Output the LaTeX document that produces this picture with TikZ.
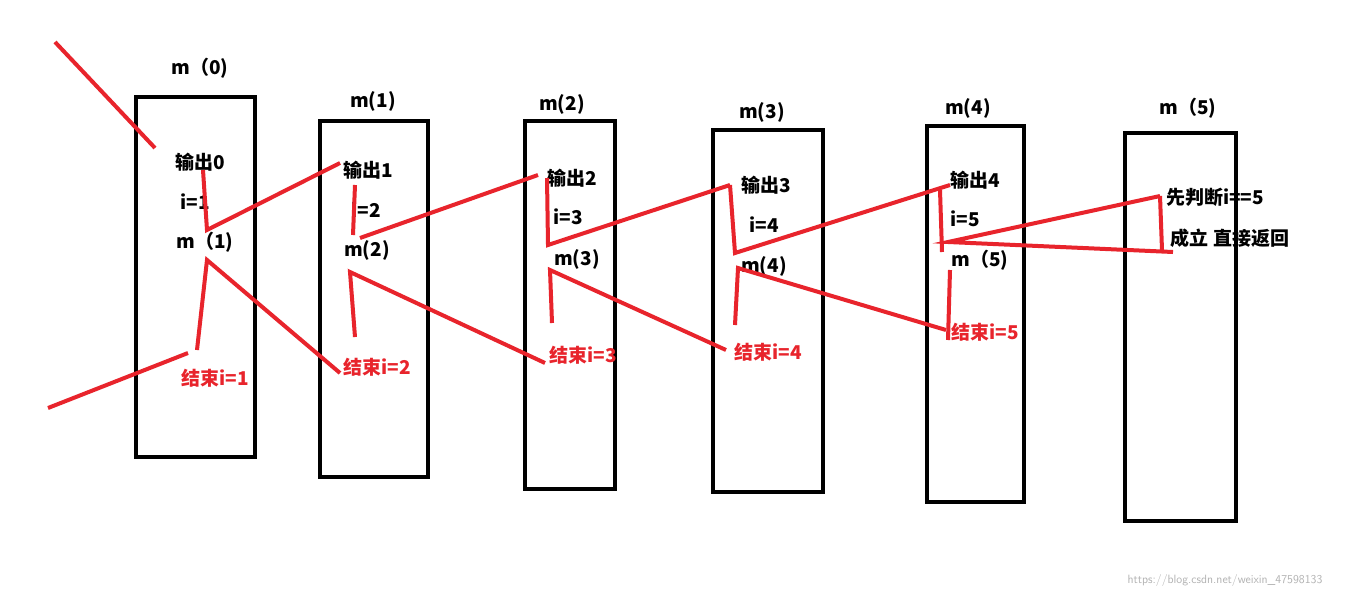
\documentclass[tikz,border=0pt]{standalone}
\usepackage{fontspec}
\newfontfamily\cjk{Noto Sans CJK SC}
\definecolor{rd}{HTML}{E8242C}
\begin{document}
\begin{tikzpicture}[x=1pt,y=-1pt,
 box/.style={draw=black,line width=4pt},
 bt/.style={font=\cjk\fontsize{19}{22}\selectfont\bfseries,text=black,inner sep=0pt},
 rt/.style={font=\cjk\fontsize{19}{22}\selectfont\bfseries,text=rd,inner sep=0pt},
 rl/.style={draw=rd,line width=4pt}]
\useasboundingbox[fill=white] (0,0) rectangle (1367,597);
\draw[box] (136,97) rectangle (255,457);
\draw[box] (320,121) rectangle (428,477);
\draw[box] (525,121) rectangle (615,489);
\draw[box] (713,130) rectangle (823,492);
\draw[box] (927,126) rectangle (1024,502);
\draw[box] (1125,133) rectangle (1236,521);
\node[bt] (h0) at (200,68) {m（0)};
\node[bt] (h1) at (373,101) {m(1)};
\node[bt] (h2) at (562,104) {m(2)};
\node[bt] (h3) at (762,112) {m(3)};
\node[bt] (h4) at (968,108) {m(4)};
\node[bt] (h5) at (1188,108) {m（5)};
\node[bt] (a0) at (200,162) {输出0};
\node[bt] (b0) at (195,202) {i=1};
\node[bt] (c0) at (205,242) {m（1)};
\node[bt] (a1) at (368,170) {输出1};
\node[bt] (b1) at (366,210) {i=2};
\node[bt] (c1) at (367,250) {m(2)};
\node[bt] (a2) at (572,178) {输出2};
\node[bt] (b2) at (568,217) {i=3};
\node[bt] (c2) at (577,259) {m(3)};
\node[bt] (a3) at (766,185) {输出3};
\node[bt] (b3) at (764,225) {i=4};
\node[bt] (c3) at (764,266) {m(4)};
\node[bt] (a4) at (975,180) {输出4};
\node[bt] (b4) at (965,219) {i=5};
\node[bt] (c4) at (980,260) {m（5)};
\node[bt] (a5) at (1215,197) {先判断i==5};
\node[bt] (b5) at (1230,238) {成立 直接返回};
\node[rt] (e0) at (215,378) {结束i=1};
\node[rt] (e1) at (377,367) {结束i=2};
\node[rt] (e2) at (583,355) {结束i=3};
\node[rt] (e3) at (768,352) {结束i=4};
\node[rt] (e4) at (985,332) {结束i=5};
\node[text=gray!60,font=\sffamily\fontsize{12}{13}\selectfont,inner sep=0pt] (wm) at (1225,580) {https://blog.csdn.net/weixin\_47598133};
\draw[rl] (55,42)--(155,148);
\draw[rl] (48,408)--(188,353);
\draw[rl] (203,170)--(207,230)--(340,163);
\draw[rl] (197,350)--(207,260)--(340,373);
\draw[rl] (355,185)--(353,235);
\draw[rl] (360,238)--(538,175);
\draw[rl] (355,337)--(350,272)--(545,363);
\draw[rl] (547,178)--(548,245)--(730,185);
\draw[rl] (552,323)--(550,270)--(726,350);
\draw[rl] (730,185)--(735,253)--(950,185);
\draw[rl] (735,325)--(738,268)--(946,330);
\draw[rl] (940,190)--(942,252);
\draw[rl] (1160,196)--(948,242)--(1173,252);
\draw[rl] (950,270)--(948,340);
\draw[rl] (1160,196)--(1162,250);
\end{tikzpicture}
\end{document}
